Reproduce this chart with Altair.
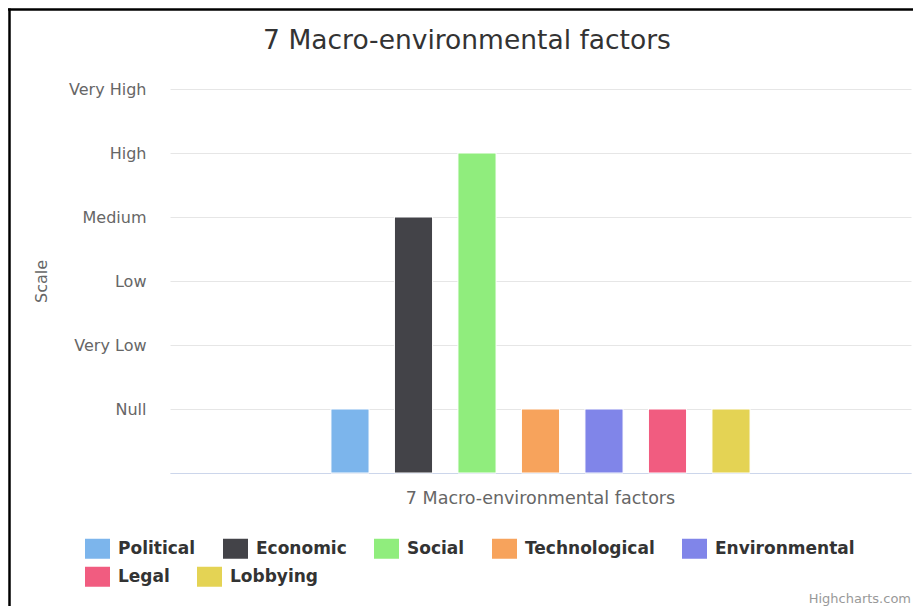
import altair as alt
import pandas as pd

category = "7 Macro-environmental factors"
series = ["Political", "Economic", "Social", "Technological", "Environmental", "Legal", "Lobbying"]
values = [1, 4, 5, 1, 1, 1, 1]
colors = ["#7cb5ec", "#434348", "#90ed7d", "#f7a35c", "#8085e9", "#f15c80", "#e4d354"]
scale_labels = ["", "Null", "Very Low", "Low", "Medium", "High", "Very High"]
chart_title = "7 Macro-environmental factors"
credit_text = "Highcharts.com"
legend_rows = [series[:5], series[5:]]

df = pd.DataFrame({"category": [category] * len(series), "series": series, "value": values})
color_of = dict(zip(series, colors))

FONT = "DejaVu Sans"
label_expr = "[" + ",".join("'" + s + "'" for s in scale_labels) + "][datum.value]"

x_axis = alt.Axis(labelAngle=0, ticks=False, domainColor="#ccd6eb", domainWidth=1,
                  labelColor="#666666", labelFontSize=17.5, labelFont=FONT,
                  labelPadding=16, grid=False, labelLimit=600)
y_axis = alt.Axis(values=list(range(7)), labelExpr=label_expr, ticks=False, tickSize=0,
                  domain=False, gridColor="#e6e6e6", gridWidth=1,
                  labelColor="#666666", labelFontSize=16, labelFont=FONT,
                  labelPadding=24, titleColor="#666666", titleFontSize=16,
                  titleFont=FONT, titleFontWeight="normal",
                  titleX=-121, titleY=192)


def bar_layer(row_series, legend_y):
    sub = df[df["series"].isin(row_series)]
    return alt.Chart(sub).mark_bar(stroke="white", strokeWidth=1).encode(
        x=alt.X("category:N", title=None,
                scale=alt.Scale(domain=[category], paddingInner=0, paddingOuter=0.3335),
                axis=x_axis),
        xOffset=alt.XOffset("series:N",
                            scale=alt.Scale(domain=series, paddingInner=0.4, paddingOuter=0.2)),
        y=alt.Y("value:Q", title="Scale",
                scale=alt.Scale(domain=[0, 6], nice=False),
                axis=y_axis),
        color=alt.Color("series:N", sort=row_series,
                        scale=alt.Scale(domain=row_series,
                                        range=[color_of[s] for s in row_series]),
                        legend=alt.Legend(title=None, orient="none", legendX=-85,
                                          legendY=legend_y, direction="horizontal",
                                          symbolType="M-1,-0.8L1,-0.8L1,0.8L-1,0.8Z",
                                          symbolSize=625, symbolStrokeWidth=0,
                                          labelFont=FONT, labelFontSize=17,
                                          labelFontWeight="bold", labelColor="#333333",
                                          labelOffset=8, columnPadding=27, padding=0,
                                          labelLimit=300)),
    )


bars_row1 = bar_layer(legend_rows[0], 447)
bars_row2 = bar_layer(legend_rows[1], 475)

frame_data = alt.Data(values=[{}])
top_line = alt.Chart(frame_data).mark_rule(color="black", strokeWidth=2.5).encode(
    x=alt.value(-170), x2=alt.value(760), y=alt.value(-79.5))
left_line = alt.Chart(frame_data).mark_rule(color="black", strokeWidth=2.5).encode(
    x=alt.value(-160.5), y=alt.value(-80.5), y2=alt.value(520))
title_text = alt.Chart(frame_data).mark_text(align="center", baseline="alphabetic", fontSize=26.5,
                                             font=FONT, color="#333333").encode(
    x=alt.value(297), y=alt.value(-40), text=alt.value(chart_title))
credit = alt.Chart(frame_data).mark_text(align="right", baseline="alphabetic", fontSize=13,
                                         font=FONT, color="#999999").encode(
    x=alt.value(741), y=alt.value(514), text=alt.value(credit_text))

chart = alt.layer(bars_row1, bars_row2, top_line, left_line, title_text, credit).resolve_scale(
    color="independent"
).resolve_legend(color="independent").properties(
    width=741, height=384,
    padding={"left": 162, "top": 81, "right": 2, "bottom": 133},
    autosize=alt.AutoSizeParams(type="none"),
    background="white",
).configure_view(stroke="transparent", strokeWidth=0)

chart.save("out.html", embed_options={"renderer": "svg", "actions": False})
